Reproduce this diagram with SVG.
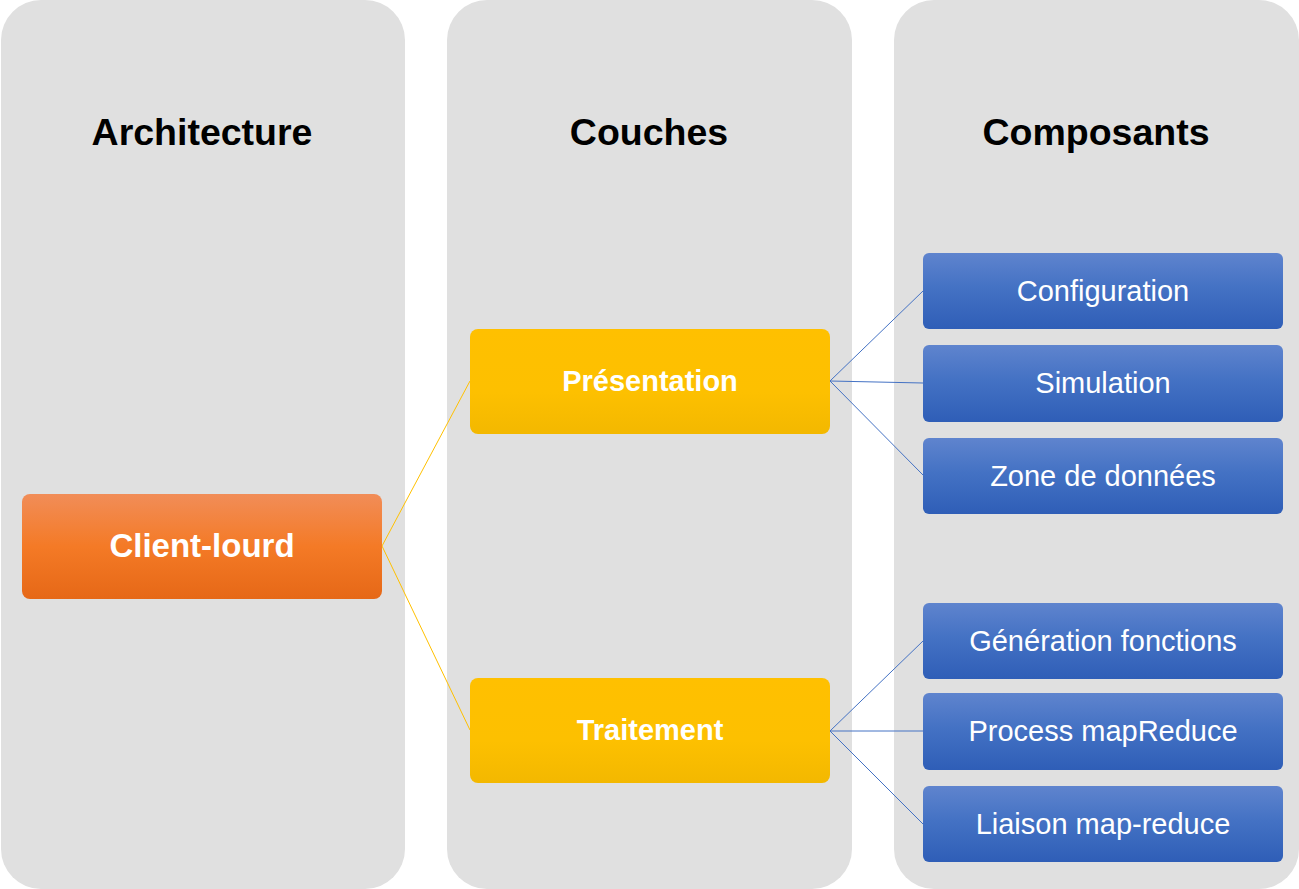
<svg xmlns="http://www.w3.org/2000/svg" width="1299" height="889" viewBox="0 0 1299 889">
<defs>
<linearGradient id="gOrange" x1="0" y1="0" x2="0" y2="1">
<stop offset="0" stop-color="#F18D58"/>
<stop offset="0.5" stop-color="#F47A26"/>
<stop offset="1" stop-color="#E66817"/>
</linearGradient>
<linearGradient id="gYellow" x1="0" y1="0" x2="0" y2="1">
<stop offset="0" stop-color="#FFC000"/>
<stop offset="0.6" stop-color="#FDC000"/>
<stop offset="1" stop-color="#F3B800"/>
</linearGradient>
<linearGradient id="gBlue" x1="0" y1="0" x2="0" y2="1">
<stop offset="0" stop-color="#5F84CE"/>
<stop offset="0.45" stop-color="#4472C4"/>
<stop offset="1" stop-color="#2F5EB7"/>
</linearGradient>
<style>
.col{fill:#E0E0E0;}
.title{font-family:"Liberation Sans",Arial,sans-serif;font-weight:bold;font-size:37.5px;fill:#000;text-anchor:middle;}
.bold{font-family:"Liberation Sans",Arial,sans-serif;font-weight:bold;fill:#fff;text-anchor:middle;}
.reg{font-family:"Liberation Sans",Arial,sans-serif;font-size:29px;fill:#fff;text-anchor:middle;}
.cy{stroke:#FFC000;stroke-width:1;fill:none;}
.cb{stroke:#4472C4;stroke-width:1;fill:none;}
</style>
</defs>
<g id="columns">
<g id="col-architecture"><rect class="col" x="1" y="0" width="404" height="889" rx="40"/><text class="title" x="202" y="145">Architecture</text></g>
<g id="col-couches"><rect class="col" x="447" y="0" width="405" height="889" rx="40"/><text class="title" x="649" y="145">Couches</text></g>
<g id="col-composants"><rect class="col" x="894" y="0" width="405" height="889" rx="40"/><text class="title" x="1096" y="145">Composants</text></g>
</g>
<g id="connectors">
<path class="cy" d="M382 546 L470 381"/>
<path class="cy" d="M382 546 L470 730"/>
<path class="cb" d="M830 381 L923 291"/>
<path class="cb" d="M830 381 L923 383"/>
<path class="cb" d="M830 381 L923 475"/>
<path class="cb" d="M830 731 L923 641"/>
<path class="cb" d="M830 731 L923 731"/>
<path class="cb" d="M830 731 L923 824"/>
</g>
<g id="node-client-lourd"><rect x="22" y="494" width="360" height="105" rx="8" fill="url(#gOrange)"/><text class="bold" x="202" y="557" font-size="33">Client-lourd</text></g>
<g id="node-presentation"><rect x="470" y="329" width="360" height="105" rx="8" fill="url(#gYellow)"/><text class="bold" x="650" y="391" font-size="29">Présentation</text></g>
<g id="node-traitement"><rect x="470" y="678" width="360" height="105" rx="8" fill="url(#gYellow)"/><text class="bold" x="650" y="740" font-size="29">Traitement</text></g>
<g id="node-configuration"><rect x="923" y="253" width="360" height="76" rx="6" fill="url(#gBlue)"/><text class="reg" x="1103" y="301">Configuration</text></g>
<g id="node-simulation"><rect x="923" y="345" width="360" height="77" rx="6" fill="url(#gBlue)"/><text class="reg" x="1103" y="393">Simulation</text></g>
<g id="node-zone"><rect x="923" y="438" width="360" height="76" rx="6" fill="url(#gBlue)"/><text class="reg" x="1103" y="486">Zone de données</text></g>
<g id="node-generation"><rect x="923" y="603" width="360" height="76" rx="6" fill="url(#gBlue)"/><text class="reg" x="1103" y="651">Génération fonctions</text></g>
<g id="node-process"><rect x="923" y="693" width="360" height="77" rx="6" fill="url(#gBlue)"/><text class="reg" x="1103" y="741">Process mapReduce</text></g>
<g id="node-liaison"><rect x="923" y="786" width="360" height="76" rx="6" fill="url(#gBlue)"/><text class="reg" x="1103" y="834">Liaison map-reduce</text></g>
</svg>
